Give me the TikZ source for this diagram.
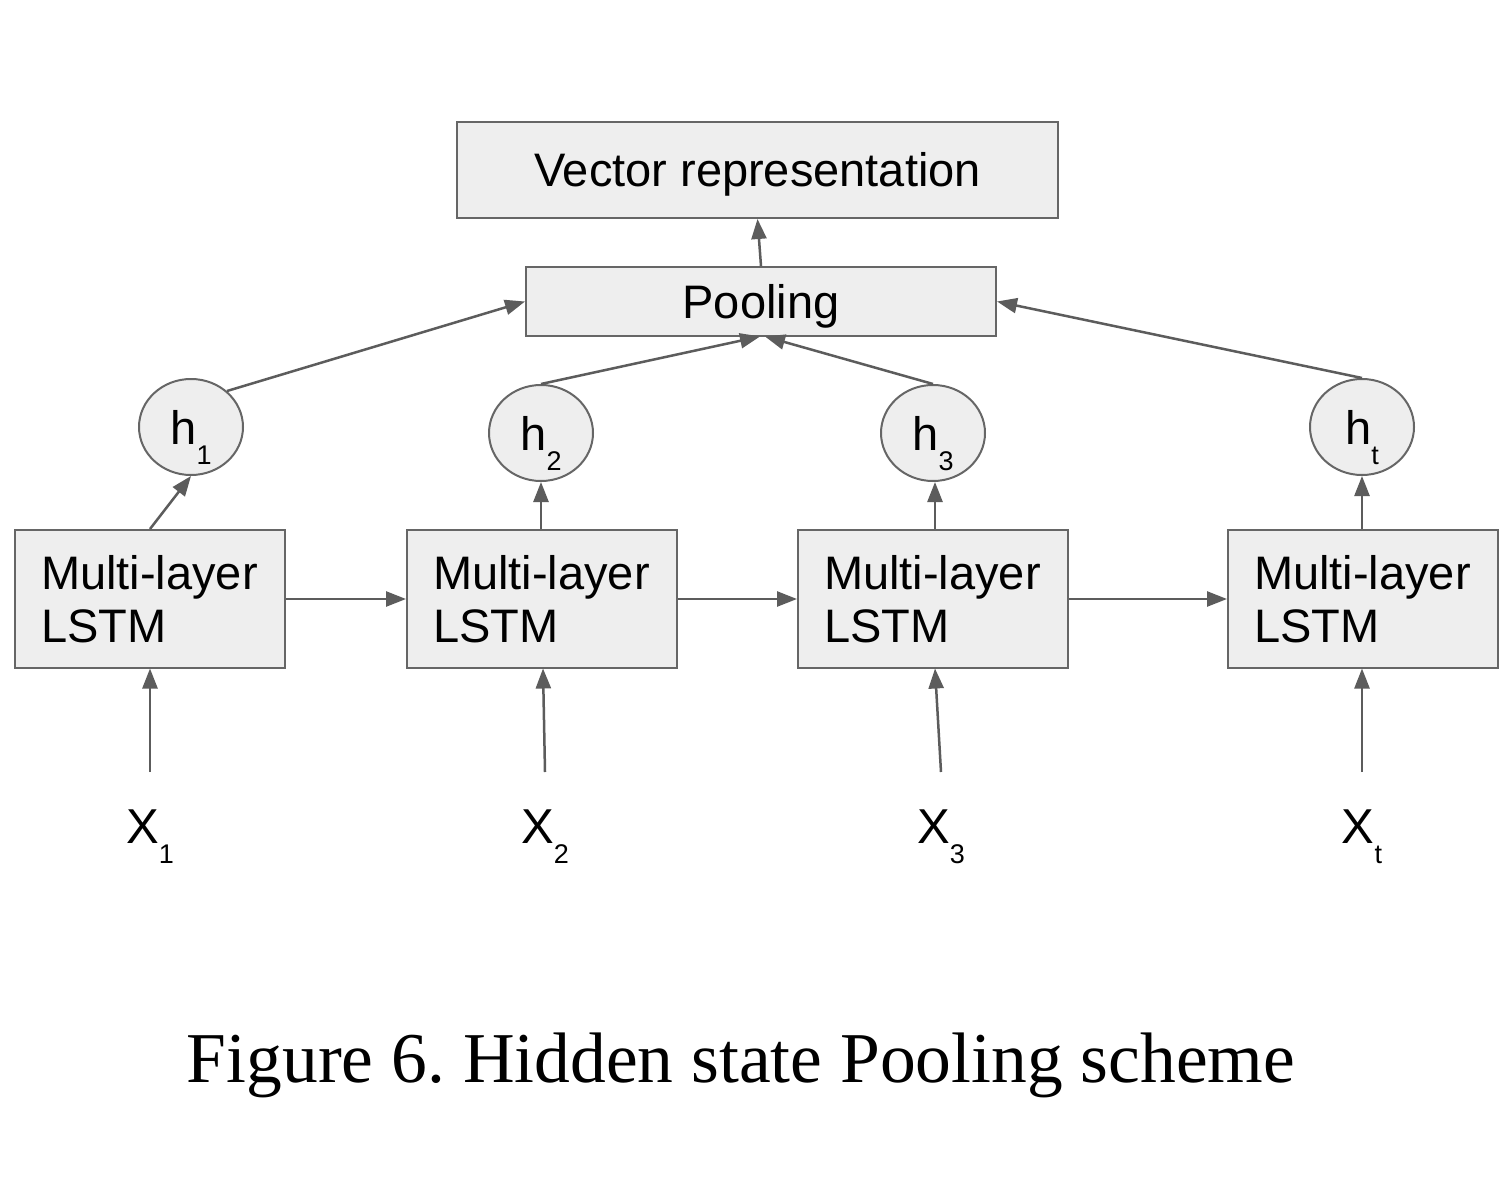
\documentclass[tikz,border=0pt]{standalone}
\usepackage{fontspec}
\setmainfont{Liberation Sans}
\newfontfamily\capfont{Liberation Serif}
\usetikzlibrary{shapes.geometric,arrows.meta}
\definecolor{boxfill}{HTML}{EEEEEE}
\definecolor{boxline}{HTML}{666666}
\definecolor{arrcol}{HTML}{5C5C5C}
\newcommand{\sbs}[1]{\raisebox{-20pt}[0pt][0pt]{\fontsize{27}{30}\selectfont #1}}
\frenchspacing
\begin{document}
\begin{tikzpicture}[x=1pt,y=-1pt,
  box/.style={draw=boxline,line width=2pt,fill=boxfill,inner sep=0pt},
  lstm/.style={box,minimum width=270pt,minimum height=138pt,text width=218pt,align=left,
    font=\fontsize{47}{53}\selectfont},
  topbox/.style={box,text height=34pt,text depth=0pt,font=\fontsize{47}{53}\selectfont},
  hnode/.style={draw=boxline,line width=2pt,fill=boxfill,ellipse,minimum width=104pt,minimum height=96pt,inner sep=0pt,
    text height=34pt,text depth=0pt,font=\fontsize{47}{53}\selectfont},
  xlab/.style={inner sep=0pt,font=\fontsize{49}{55}\selectfont},
  arr/.style={draw=arrcol,line width=2.5pt,-{Triangle[length=20pt,width=15pt]}}]
\useasboundingbox (0,0) rectangle (1510,1201);
\fill[white] (0,0) rectangle (1510,1201);
% top boxes
\node[topbox,minimum width=601pt,minimum height=96pt] (vec) at (757.5,170) {Vector representation};
\node[topbox,minimum width=470pt,minimum height=69pt] (pool) at (761,301.5) {Pooling};
% hidden states
\node[hnode] (h1) at (191,427) {h\sbs{1}};
\node[hnode] (h2) at (541,433) {h\sbs{2}};
\node[hnode] (h3) at (933,433) {h\sbs{3}};
\node[hnode] (ht) at (1362,427) {h\sbs{t}};
% LSTM boxes
\node[lstm] (l1) at (150,599) {Multi-layer\\LSTM};
\node[lstm] (l2) at (542,599) {Multi-layer\\LSTM};
\node[lstm] (l3) at (933,599) {Multi-layer\\LSTM};
\node[lstm] (l4) at (1363,599) {Multi-layer\\LSTM};
% inputs
\node[xlab,anchor=base] (x1) at (150,843) {X\sbs{1}};
\node[xlab,anchor=base] (x2) at (545,843) {X\sbs{2}};
\node[xlab,anchor=base] (x3) at (941,843) {X\sbs{3}};
\node[xlab,anchor=base] (xt) at (1362,843) {X\sbs{t}};
\coordinate (c1) at (150,772);
\coordinate (c2) at (545,772);
\coordinate (c3) at (941,772);
\coordinate (ct) at (1362,772);
% connectors
\draw[arr] (c1) -- (150,668.5);
\draw[arr] (c2) -- (543,668.5);
\draw[arr] (c3) -- (935,668.5);
\draw[arr] (ct) -- (1362,668.5);
\draw[arr] (l1.east) -- (l2.west);
\draw[arr] (l2.east) -- (l3.west);
\draw[arr] (l3.east) -- (l4.west);
\draw[arr] (l1.north) -- (h1.south);
\draw[arr] (l2.north -| h2.south) -- (h2.south);
\draw[arr] (l3.north -| 935,0) -- (935,482);
\draw[arr] (l4.north -| ht.south) -- (ht.south);
\draw[arr] (h1.45) -- (pool.west);
\draw[arr] (h2.north) -- (760,336.5);
\draw[arr] (h3.north) -- (765,336.5);
\draw[arr] (ht.north) -- (pool.east);
\draw[arr] (pool.north) -- (vec.south);
% caption
\node[anchor=base,inner sep=0pt,font=\capfont\fontsize{71.5}{80}\selectfont] (cap) at (741,1082) {Figure 6. Hidden state Pooling scheme};
\end{tikzpicture}
\end{document}
